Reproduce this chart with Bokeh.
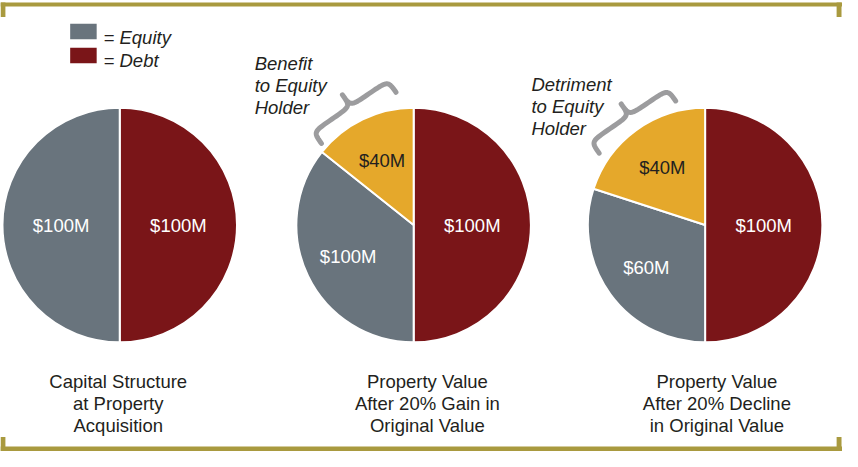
import numpy as np
from bokeh.plotting import figure
from bokeh.models import Range1d
from bokeh.embed import file_html
from bokeh.resources import INLINE
from bokeh.core.properties import value

# ---------------- data ----------------
captions = ["Capital Structure\nat Property\nAcquisition",
            "Property Value\nAfter 20% Gain in\nOriginal Value",
            "Property Value\nAfter 20% Decline\nin Original Value"]
debt = [100, 100, 100]          # $M, right half of each pie
equity = [100, 100, 60]         # $M, grey slice
change = [0, 40, 40]            # $M, gold slice (gain / loss to equity)
annotations = ["", "Benefit\nto Equity\nHolder", "Detriment\nto Equity\nHolder"]
legend_labels = ["= Equity", "= Debt"]

# ---------------- style / layout ----------------
C_EQ, C_DEBT, C_CHG = "#69747D", "#7A1518", "#E5A82B"
GOLD, BRACE, INK = "#A99A3F", "#9C9C9E", "#231F20"
FONT = value("Liberation Sans")
FS = value("18.5px")

W_REF, H_REF = 858, 467
def Y(y):
    return H_REF - np.asarray(y, dtype=float)

pie_cx = [121.5, 421.0, 718.0]
pie_cy = 232.5
pie_r = 119.5
caption_cx = [120, 435, 730]
caption_y0, line_gap = 395, 22.7
annot_xy = [None, (259, 65), (541, 87)]
brace_ends = [None, ((403, 95), (327, 148)), ((688, 104), (610, 158))]
brace_depth = 29

p = figure(width=842, height=451, x_range=Range1d(0, W_REF), y_range=Range1d(0, H_REF),
           output_backend="svg", toolbar_location=None, min_border=0)
p.axis.visible = False
p.grid.visible = False
p.outline_line_color = None
p.background_fill_color = "white"
p.border_fill_color = "white"

# ---------------- gold frame ----------------
bars_l = [0, 0, 852, 0, 0, 852]
bars_r = [858, 5, 857, 858, 5, 857]
bars_t = [2, 2, 2, 461.7, 452, 452]
bars_b = [6.3, 17, 17, 467, 467, 467]
p.quad(left=bars_l, right=bars_r, top=Y(bars_t), bottom=Y(bars_b),
       fill_color=GOLD, line_color=None)

# ---------------- pies ----------------
wx, wy, ws, we, wc = [], [], [], [], []
lx, ly, lt, lc = [], [], [], []
for i in range(3):
    cx = pie_cx[i]
    left_total = equity[i] + change[i]
    a_chg = 180.0 * change[i] / left_total
    slices = [(debt[i], -90.0, 90.0, C_DEBT, "white", 0.5),
              (equity[i], 90.0 + a_chg, 270.0, C_EQ, "white", 0.5 if change[i] == 0 else 0.62)]
    if change[i]:
        slices.append((change[i], 90.0, 90.0 + a_chg, C_CHG, INK, 0.62))
    for val, a0, a1, col, tcol, rf in slices:
        wx.append(cx); wy.append(pie_cy)
        ws.append(np.radians(a0)); we.append(np.radians(a1)); wc.append(col)
        mid = np.radians((a0 + a1) / 2)
        lx.append(cx + rf * pie_r * np.cos(mid))
        ly.append(pie_cy - rf * pie_r * np.sin(mid))
        lt.append(f"${val}M"); lc.append(tcol)

p.wedge(x=wx, y=Y(wy), radius=pie_r, start_angle=ws, end_angle=we,
        direction="anticlock", fill_color=wc, line_color="white", line_width=2)
p.text(x=lx, y=Y(ly), text=lt, text_color=lc, text_font=FONT, text_font_size=FS,
       text_align="center", text_baseline="middle")

# ---------------- captions ----------------
cx_, cy_, ct_ = [], [], []
for i, cap in enumerate(captions):
    for k, line in enumerate(cap.split("\n")):
        cx_.append(caption_cx[i]); cy_.append(caption_y0 + k * line_gap); ct_.append(line)
p.text(x=cx_, y=Y(cy_), text=ct_, text_color=INK, text_font=FONT, text_font_size=FS,
       text_align="center", text_baseline="alphabetic")

# ---------------- annotations + braces ----------------
ax_, ay_, at_ = [], [], []
for i, ann in enumerate(annotations):
    if not ann:
        continue
    x0, y0 = annot_xy[i]
    for k, line in enumerate(ann.split("\n")):
        ax_.append(x0); ay_.append(y0 + k * line_gap); at_.append(line)
p.text(x=ax_, y=Y(ay_), text=at_, text_color=INK, text_font=FONT, text_font_size=FS,
       text_font_style="italic", text_align="left", text_baseline="alphabetic")

def bez(P0, P1, P2, P3, n=24):
    t = np.linspace(0, 1, n)[:, None]
    return ((1 - t) ** 3) * P0 + 3 * ((1 - t) ** 2) * t * P1 + 3 * (1 - t) * t ** 2 * P2 + t ** 3 * P3

def brace(e1, e2, d):
    e1 = np.array(e1, float); e2 = np.array(e2, float)
    m = (e1 + e2) / 2
    u = e1 - e2
    h = np.linalg.norm(u) / 2
    u = u / (2 * h)
    nrm = np.array([u[1], -u[0]])
    if nrm[1] > 0:
        nrm = -nrm
    A = lambda t, s: np.array([t, s])
    top = np.vstack([bez(A(0, h), A(0.5 * d, h), A(0.5 * d, h), A(0.5 * d, 0.5 * h)),
                     bez(A(0.5 * d, 0.5 * h), A(0.5 * d, 0), A(0.5 * d, 0), A(d, 0))])
    bot = top[::-1].copy()
    bot[:, 1] *= -1
    loc = np.vstack([top, bot])
    pts = m + loc[:, [1]] * u + loc[:, [0]] * nrm
    return pts[:, 0], pts[:, 1]

for i in range(3):
    if brace_ends[i] is None:
        continue
    bx, by = brace(brace_ends[i][0], brace_ends[i][1], brace_depth)
    p.line(bx, Y(by), line_color=BRACE, line_width=5, line_cap="round", line_join="round")

# ---------------- legend ----------------
leg_cols = [C_EQ, C_DEBT]
leg_top = [24, 49]
p.quad(left=[71, 71], right=[98, 98], top=Y(leg_top), bottom=Y([t + 16 for t in leg_top]),
       fill_color=leg_cols, line_color=None)
p.text(x=[105, 105], y=Y([38, 62]), text=legend_labels, text_color=INK, text_font=FONT,
       text_font_size=FS, text_font_style="italic", text_align="left", text_baseline="alphabetic")

open("out.html", "w").write(file_html(p, INLINE))
